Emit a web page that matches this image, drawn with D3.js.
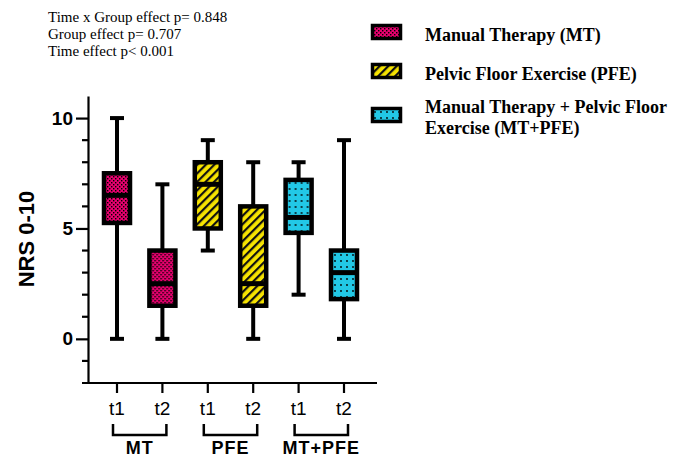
<!DOCTYPE html>
<html>
<head>
<meta charset="utf-8">
<script src="https://cdn.jsdelivr.net/npm/d3@7"></script>
<style>
  html, body { margin: 0; padding: 0; background: #fff; }
  svg { display: block; }
</style>
</head>
<body>
<svg class="chart" width="676" height="459"></svg>
<script>
// data
const timepoints = ["t1", "t2", "t1", "t2", "t1", "t2"];
const groupOf = [0, 0, 1, 1, 2, 2];
const groups = ["MT", "PFE", "MT+PFE"];
const mins = [0, 0, 4, 0, 2, 0];
const q1s = [5.25, 1.5, 5, 1.5, 4.8, 1.8];
const medians = [6.5, 2.5, 7, 2.5, 5.5, 3];
const q3s = [7.5, 4, 8, 6, 7.2, 4];
const maxs = [10, 7, 9, 8, 8, 9];
const yTicks = [0, 5, 10];
const legendLabels = [
  ["Manual Therapy (MT)"],
  ["Pelvic Floor Exercise (PFE)"],
  ["Manual Therapy + Pelvic Floor", "Exercise (MT+PFE)"]
];
const statsLines = [
  "Time x Group effect p= 0.848",
  "Group effect p= 0.707",
  "Time effect p< 0.001"
];

const svg = d3.select(".chart");
const sans = "'Liberation Sans', Arial, sans-serif";
const serif = "'Liberation Serif', 'Times New Roman', serif";

// patterns: pink checker, yellow stripes, cyan dots
const defs = svg.append("defs");

const checker = defs.append("pattern")
  .attr("id", "pat0")
  .attr("patternUnits", "userSpaceOnUse")
  .attr("width", 4).attr("height", 4);
checker.append("rect").attr("width", 4).attr("height", 4).attr("fill", "#e8006e");
checker.append("rect").attr("x", 0).attr("y", 0).attr("width", 1.4).attr("height", 1.4).attr("fill", "#000");
checker.append("rect").attr("x", 2).attr("y", 2).attr("width", 1.4).attr("height", 1.4).attr("fill", "#000");

const stripes = defs.append("pattern")
  .attr("id", "pat1")
  .attr("patternUnits", "userSpaceOnUse")
  .attr("width", 6).attr("height", 6)
  .attr("patternTransform", "rotate(45)");
stripes.append("rect").attr("width", 6).attr("height", 6).attr("fill", "#f7e400");
stripes.append("rect").attr("width", 2.2).attr("height", 6).attr("fill", "#111");

const dots = defs.append("pattern")
  .attr("id", "pat2")
  .attr("patternUnits", "userSpaceOnUse")
  .attr("width", 6).attr("height", 6);
dots.append("rect").attr("width", 6).attr("height", 6).attr("fill", "#22c8e6");
dots.append("circle").attr("cx", 3).attr("cy", 3).attr("r", 0.9).attr("fill", "#000");

// scales
const y = d3.scaleLinear().domain([-2, 11]).range([383, 96]);
const x = d3.scalePoint().domain(d3.range(timepoints.length)).range([117, 344]);

// y axis
const yAxis = svg.append("g").attr("transform", "translate(88,0)");
yAxis.call(d3.axisLeft(y).tickValues(yTicks).tickSize(12).tickSizeOuter(0).tickFormat(d3.format("d")));
yAxis.select(".domain").attr("stroke-width", 2.2);
yAxis.selectAll(".tick line").attr("stroke-width", 2.2);
yAxis.selectAll(".tick text")
  .attr("font-family", sans).attr("font-size", 19).attr("font-weight", "bold")
  .attr("fill", "#000").attr("x", -15);
// minor ticks
yAxis.append("g").selectAll("line")
  .data(d3.range(-1, 11).filter(v => v % 5 !== 0))
  .join("line")
  .attr("x1", -6).attr("x2", 0)
  .attr("y1", d => y(d)).attr("y2", d => y(d))
  .attr("stroke", "#000").attr("stroke-width", 2.2);

svg.append("text")
  .attr("transform", "translate(34,239) rotate(-90)")
  .attr("text-anchor", "middle")
  .attr("font-family", sans).attr("font-size", 22).attr("font-weight", "bold")
  .text("NRS 0-10");

// x axis
svg.append("line")
  .attr("x1", 82).attr("x2", 377).attr("y1", y(-2)).attr("y2", y(-2))
  .attr("stroke", "#000").attr("stroke-width", 2.2);
svg.append("g").selectAll("line")
  .data(timepoints)
  .join("line")
  .attr("x1", (d, i) => x(i)).attr("x2", (d, i) => x(i))
  .attr("y1", y(-2)).attr("y2", y(-2) + 10)
  .attr("stroke", "#000").attr("stroke-width", 2.2);
svg.append("g").selectAll("text")
  .data(timepoints)
  .join("text")
  .attr("x", (d, i) => x(i)).attr("y", 415)
  .attr("text-anchor", "middle")
  .attr("font-family", sans).attr("font-size", 19)
  .text(d => d);

// group brackets
groups.forEach((g, gi) => {
  const idx = d3.range(timepoints.length).filter(i => groupOf[i] === gi);
  const x0 = x(idx[0]) - 4, x1 = x(idx[idx.length - 1]) + 4;
  svg.append("path")
    .attr("d", `M${x0},424V435H${x1}V424`)
    .attr("fill", "none").attr("stroke", "#000").attr("stroke-width", 2.5);
  svg.append("text")
    .attr("x", (x0 + x1) / 2).attr("y", 454)
    .attr("text-anchor", "middle")
    .attr("font-family", sans).attr("font-size", 18).attr("font-weight", "bold")
    .attr("letter-spacing", 1)
    .text(g);
});

// boxes
const boxW = 26, capW = 14;
const boxes = svg.append("g").selectAll("g")
  .data(timepoints)
  .join("g")
  .attr("transform", (d, i) => `translate(${x(i)},0)`);

boxes.append("line")
  .attr("y1", (d, i) => y(maxs[i])).attr("y2", (d, i) => y(mins[i]))
  .attr("stroke", "#000").attr("stroke-width", 4);
boxes.append("line").attr("class", "cap")
  .attr("x1", -capW / 2).attr("x2", capW / 2)
  .attr("y1", (d, i) => y(maxs[i])).attr("y2", (d, i) => y(maxs[i]))
  .attr("stroke", "#000").attr("stroke-width", 4);
boxes.append("line").attr("class", "cap")
  .attr("x1", -capW / 2).attr("x2", capW / 2)
  .attr("y1", (d, i) => y(mins[i])).attr("y2", (d, i) => y(mins[i]))
  .attr("stroke", "#000").attr("stroke-width", 4);
boxes.append("rect")
  .attr("x", -boxW / 2).attr("width", boxW)
  .attr("y", (d, i) => y(q3s[i]))
  .attr("height", (d, i) => y(q1s[i]) - y(q3s[i]))
  .attr("fill", (d, i) => `url(#pat${groupOf[i]})`)
  .attr("stroke", "#000").attr("stroke-width", 4.5);
boxes.append("line")
  .attr("x1", -boxW / 2).attr("x2", boxW / 2)
  .attr("y1", (d, i) => y(medians[i])).attr("y2", (d, i) => y(medians[i]))
  .attr("stroke", "#000").attr("stroke-width", 5);

// stats text
svg.append("g").selectAll("text")
  .data(statsLines)
  .join("text")
  .attr("x", 48).attr("y", (d, i) => 22 + i * 17)
  .attr("font-family", serif).attr("font-size", 15)
  .text(d => d);

// legend
const legendY = [32, 71, 115];
const legend = svg.append("g").selectAll("g")
  .data(legendLabels)
  .join("g")
  .attr("transform", (d, i) => `translate(0,${legendY[i]})`);
legend.append("rect")
  .attr("x", 372.5).attr("y", -6.5).attr("width", 28).attr("height", 13)
  .attr("fill", (d, i) => `url(#pat${i})`)
  .attr("stroke", "#000").attr("stroke-width", 3.5);
legend.each(function (lines, i) {
  const g = d3.select(this);
  const off = lines.length > 1 ? -8 : 3;
  lines.forEach((t, j) => {
    g.append("text")
      .attr("x", 425).attr("y", off + 6 + j * 21)
      .attr("font-family", serif).attr("font-size", 18).attr("font-weight", "bold")
      .text(t);
  });
});
</script>
</body>
</html>
